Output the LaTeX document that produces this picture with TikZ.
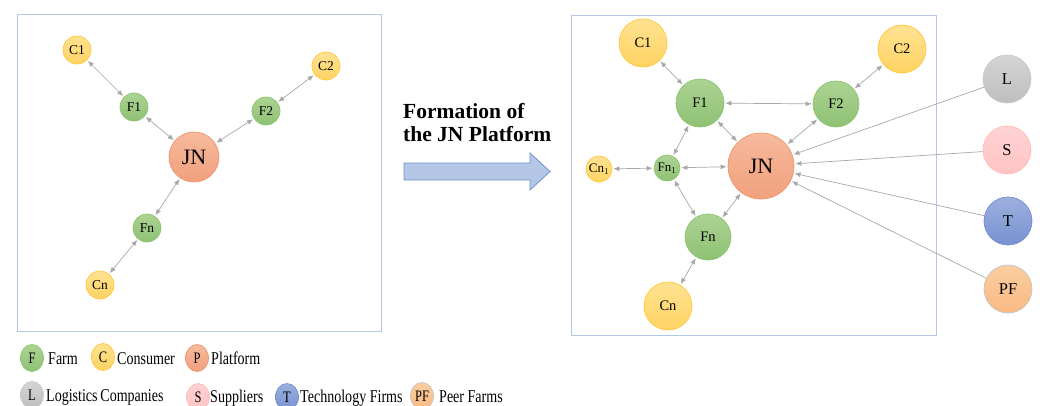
\documentclass[tikz,border=0pt]{standalone}
\usepackage{fontspec}
\setmainfont{Liberation Serif}
\usepackage{graphicx}
\usetikzlibrary{arrows.meta,shapes.geometric}

% palette
\definecolor{boxline}{RGB}{180,199,231}
\definecolor{linkgray}{RGB}{168,168,168}
\definecolor{farmtop}{RGB}{172,211,147}
\definecolor{farmbot}{RGB}{142,193,116}
\definecolor{farmedge}{RGB}{140,196,112}
\definecolor{constop}{RGB}{255,226,145}
\definecolor{consbot}{RGB}{255,211,100}
\definecolor{consedge}{RGB}{255,200,60}
\definecolor{plattop}{RGB}{246,186,157}
\definecolor{platbot}{RGB}{241,160,125}
\definecolor{platedge}{RGB}{240,150,110}
\definecolor{logitop}{RGB}{212,212,212}
\definecolor{logibot}{RGB}{190,190,190}
\definecolor{logiedge}{RGB}{200,200,200}
\definecolor{supptop}{RGB}{255,210,210}
\definecolor{suppbot}{RGB}{255,196,196}
\definecolor{suppedge}{RGB}{255,190,185}
\definecolor{techtop}{RGB}{156,176,222}
\definecolor{techbot}{RGB}{120,146,210}
\definecolor{techedge}{RGB}{112,142,212}
\definecolor{peertop}{RGB}{251,205,160}
\definecolor{peerbot}{RGB}{248,186,132}
\definecolor{peeredge}{RGB}{195,195,195}
\definecolor{bigarrowfill}{RGB}{180,199,231}
\definecolor{bigarrowedge}{RGB}{110,145,205}

\newcommand{\fs}[1]{\fontsize{#1}{#1}\selectfont}
\newcommand{\narrow}[1]{\scalebox{0.78}[1]{#1}}

\tikzset{
  actor/.style={circle, draw, line width=0.7pt, inner sep=0pt},
  farm/.style={actor, draw=farmedge, top color=farmtop, bottom color=farmbot},
  cons/.style={actor, draw=consedge, top color=constop, bottom color=consbot},
  plat/.style={actor, draw=platedge, top color=plattop, bottom color=platbot},
  logi/.style={actor, draw=logiedge, top color=logitop, bottom color=logibot},
  supp/.style={actor, draw=suppedge, top color=supptop, bottom color=suppbot},
  tech/.style={actor, draw=techedge, top color=techtop, bottom color=techbot},
  peer/.style={actor, draw=peeredge, top color=peertop, bottom color=peerbot},
  small/.style={minimum size=28pt, font=\fs{13.5}},
  mid/.style={minimum size=48pt, font=\fs{14.5}},
  tiny/.style={minimum size=26pt, font=\fs{13}},
  key/.style={ellipse, minimum width=23pt, minimum height=27pt, font=\fs{16}},
  keytext/.style={anchor=base west, inner sep=0pt, font=\fs{18}},
  twoway/.style={draw=linkgray, line width=0.7pt,
    {Latex[length=6pt,width=5pt]}-{Latex[length=6pt,width=5pt]},
    shorten <=1pt, shorten >=1pt},
  oneway/.style={draw=linkgray, line width=0.7pt,
    -{Latex[length=6pt,width=5pt]}, shorten >=1pt},
  frame/.style={draw=boxline, line width=1pt}
}

\begin{document}
\begin{tikzpicture}[x=1pt,y=-1pt]
\useasboundingbox (0,0) rectangle (1040,405);

% ---------- before: farms linked to the platform ----------
\draw[frame] (17,14) rectangle (381,331);
\node[cons, small] (lc1) at (77,50)  {C1};
\node[cons, small] (lc2) at (326,66) {C2};
\node[farm, small] (lf1) at (134,107) {F1};
\node[farm, small] (lf2) at (266,111) {F2};
\node[plat, minimum size=50pt, font=\fs{22}] (ljn) at (194,157) {JN};
\node[farm, small] (lfn) at (147,228) {Fn};
\node[cons, small] (lcn) at (100,285) {Cn};

\draw[twoway] (lc1) -- (lf1);
\draw[twoway] (lf1) -- (ljn);
\draw[twoway] (ljn) -- (lf2);
\draw[twoway] (lf2) -- (lc2);
\draw[twoway] (ljn) -- (lfn);
\draw[twoway] (lfn) -- (lcn);

% ---------- transition arrow ----------
\node[anchor=base west, inner sep=0pt, font=\fs{21.5}\bfseries] (t1) at (403,118) {Formation of};
\node[anchor=base west, inner sep=0pt, font=\fs{21.5}\bfseries] (t2) at (403,141) {the JN Platform};
\draw[fill=bigarrowfill, draw=bigarrowedge, line width=0.8pt]
  (404,163) -- (530,163) -- (530,153) -- (550,171.5) -- (530,190) -- (530,180) -- (404,180) -- cycle;

% ---------- after: the platform ecosystem ----------
\draw[frame] (571,15) rectangle (936,335);
\node[cons, mid] (rc1) at (643,43)  {C1};
\node[cons, mid] (rc2) at (902,49)  {C2};
\node[farm, mid] (rf1) at (700,103) {F1};
\node[farm, mid, minimum size=46pt] (rf2) at (836,104) {F2};
\node[plat, minimum size=66pt, font=\fs{22}] (rjn) at (761,166) {JN};
\node[farm, tiny] (rfa) at (667,168) {Fn$_1$};
\node[cons, tiny] (rca) at (599,169) {Cn$_1$};
\node[farm, mid, minimum size=46pt] (rfn) at (708,237) {Fn};
\node[cons, mid] (rcn) at (668,306) {Cn};

\node[logi, mid, font=\fs{16.5}] (rl)  at (1007,79)  {L};
\node[supp, mid, font=\fs{16.5}] (rs)  at (1007,150) {S};
\node[tech, mid, font=\fs{16.5}] (rt)  at (1008,221) {T};
\node[peer, mid, font=\fs{16.5}] (rpf) at (1008,289) {PF};

\draw[twoway] (rc1) -- (rf1);
\draw[twoway] (rc2) -- (rf2);
\draw[twoway] (rf1) -- (rf2);
\draw[twoway] (rf1) -- (rjn);
\draw[twoway] (rf2) -- (rjn);
\draw[twoway] (rf1) -- (rfa);
\draw[twoway] (rca) -- (rfa);
\draw[twoway] (rfa) -- (rjn);
\draw[twoway] (rfa) -- (rfn);
\draw[twoway] (rfn) -- (rjn);
\draw[twoway] (rfn) -- (rcn);

\draw[oneway] (rl)  -- (rjn);
\draw[oneway] (rs)  -- (rjn);
\draw[oneway] (rt)  -- (rjn);
\draw[oneway] (rpf) -- (rjn);

% ---------- legend ----------
\node[farm, key] (kf) at (32,358)  {\narrow{F}};
\node[keytext] (kft) at (48,364)   {\narrow{Farm}};
\node[cons, key] (kc) at (103,357) {\narrow{C}};
\node[keytext] (kct) at (117,364)  {\narrow{Consumer}};
\node[plat, key] (kp) at (197,358) {\narrow{P}};
\node[keytext] (kpt) at (211,364)  {\narrow{Platform}};

\node[logi, key] (kl) at (32,395)  {\narrow{L}};
\node[keytext] (klt) at (46,401)   {\narrow{Logistics\kern-1pt\ Companies}};
\node[supp, key] (ks) at (198,397) {\narrow{S}};
\node[keytext] (kst) at (210,402)  {\narrow{Suppliers}};
\node[tech, key] (kt) at (287,397) {\narrow{T}};
\node[keytext] (ktt) at (300,402)  {\narrow{Technology Firms}};
\node[peer, key] (kpf) at (422,396) {\narrow{PF}};
\node[keytext] (kpft) at (439,402) {\narrow{Peer Farms}};
\end{tikzpicture}
\end{document}
